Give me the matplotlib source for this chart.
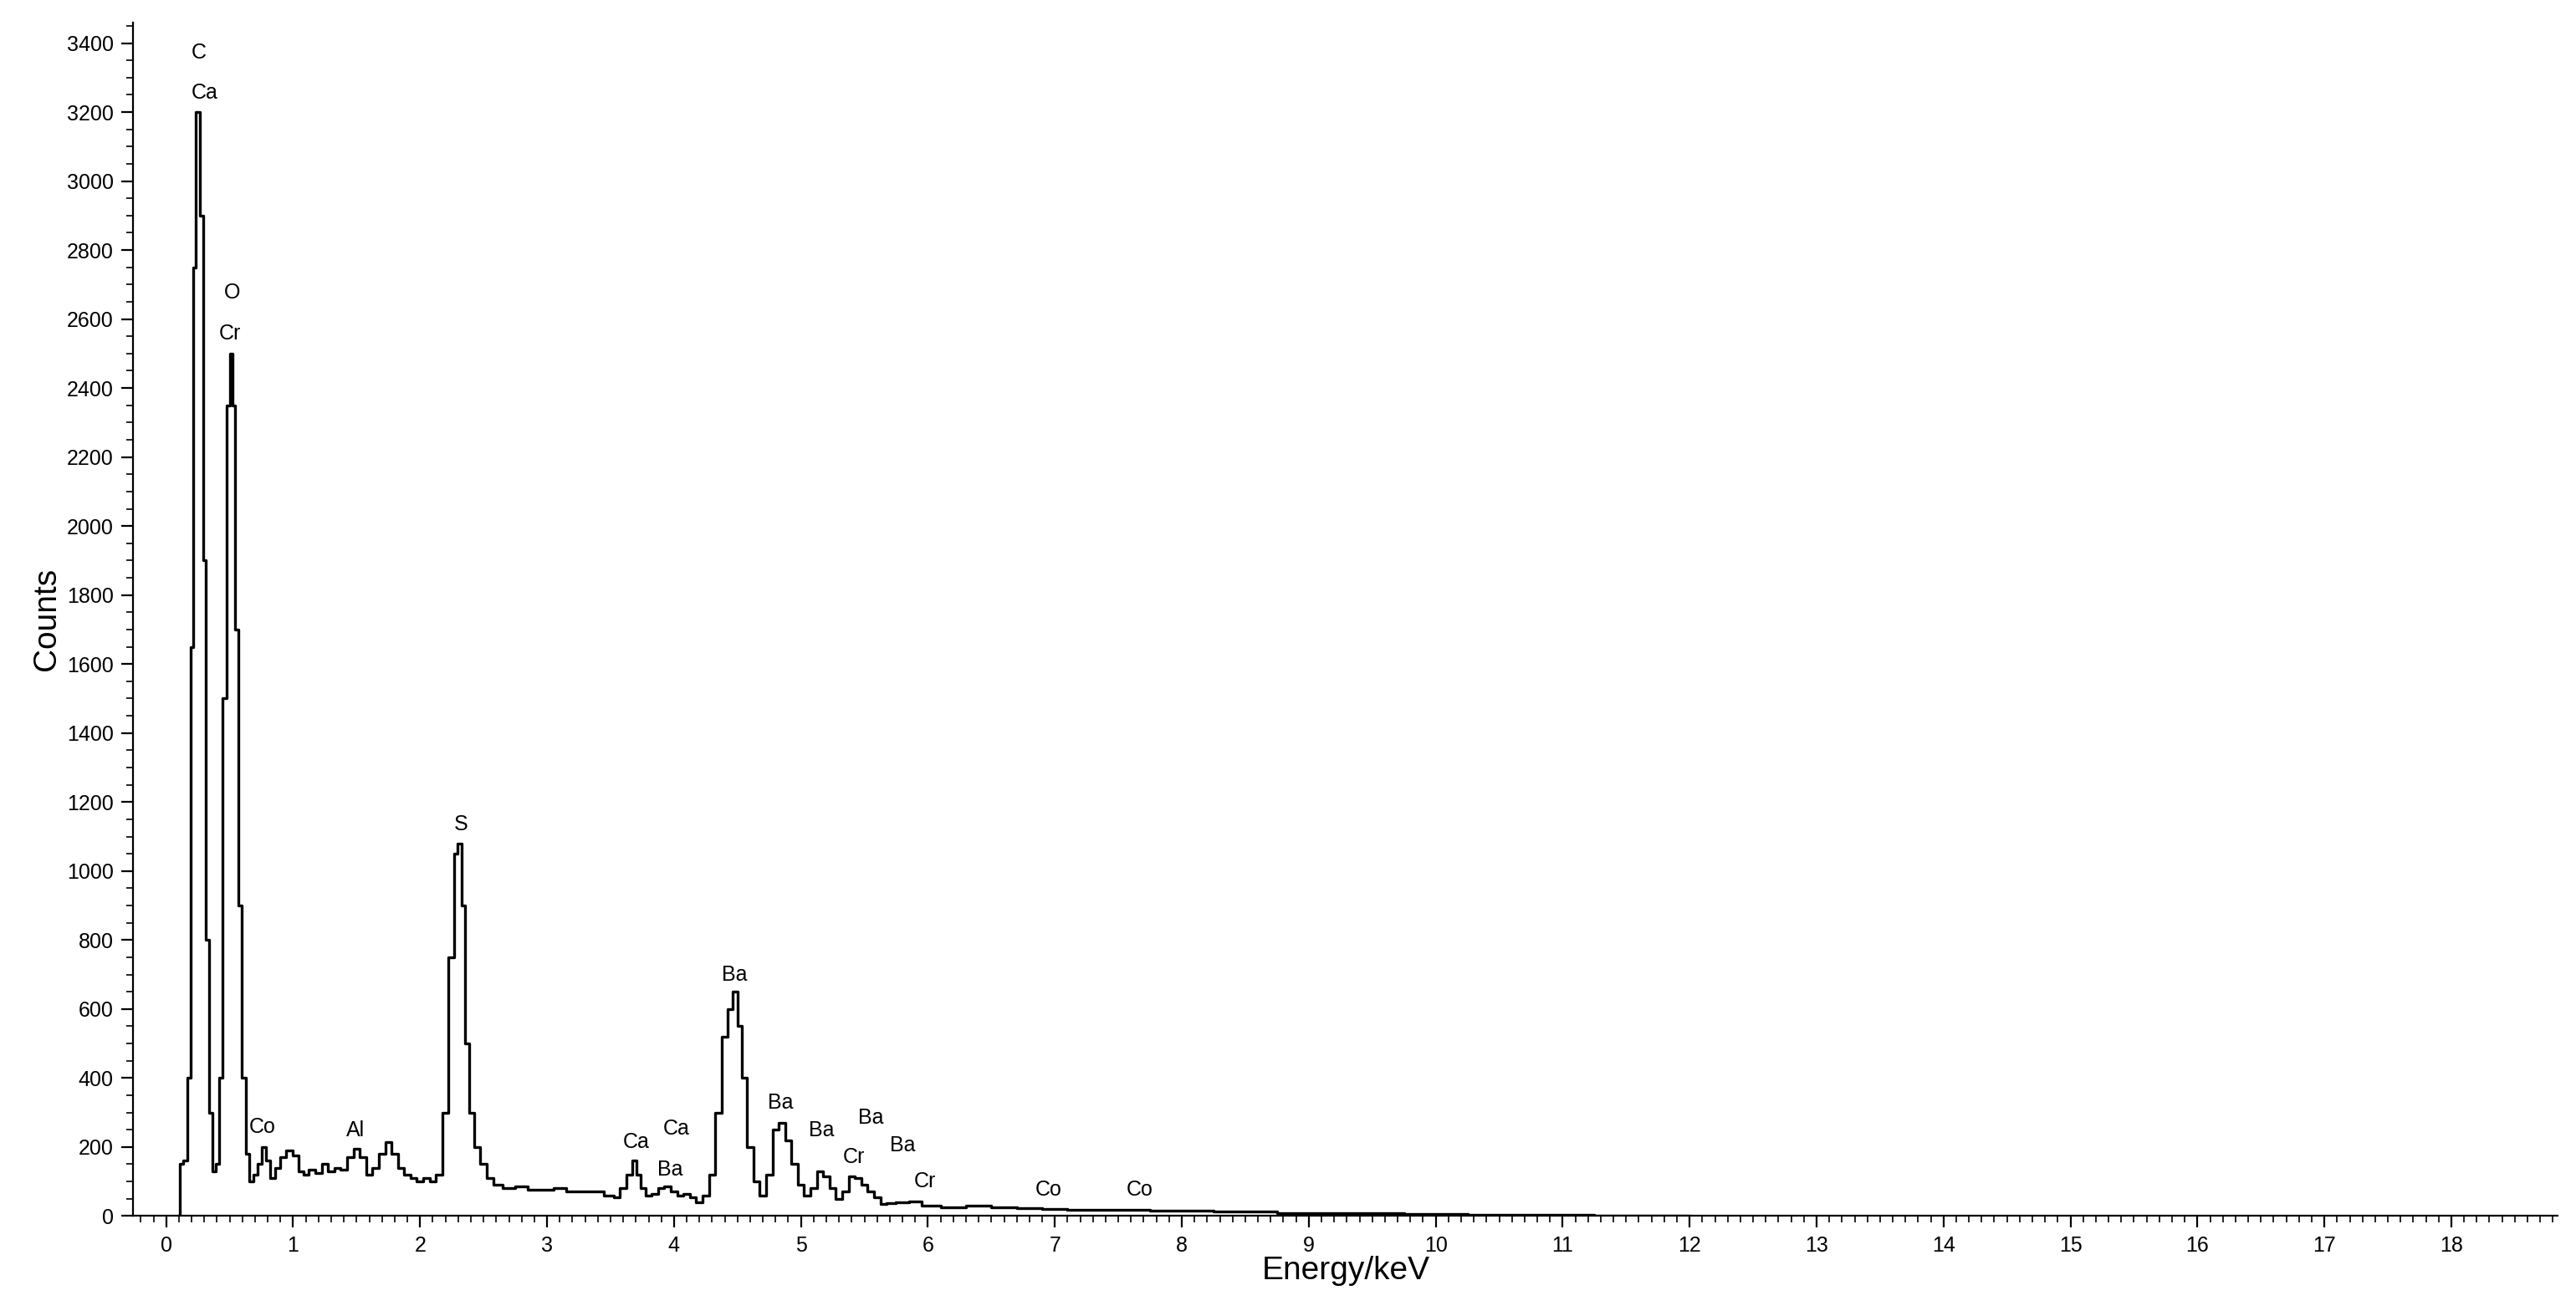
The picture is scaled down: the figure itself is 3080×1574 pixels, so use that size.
import matplotlib
matplotlib.use("Agg")
import matplotlib.pyplot as plt
from matplotlib.ticker import MultipleLocator

plt.rcParams['font.family'] = ['Liberation Sans', 'DejaVu Sans']

# EDS spectrum (keV, counts)
energy = [0.10, 0.12, 0.15, 0.18, 0.20, 0.22, 0.25, 0.28, 0.30, 0.32, 0.35, 0.38, 0.40, 0.43,
          0.46, 0.49, 0.51, 0.53, 0.56, 0.58, 0.61, 0.64, 0.67, 0.70, 0.74, 0.77, 0.80, 0.84,
          0.88, 0.92, 0.97, 1.02, 1.06, 1.10, 1.15, 1.20, 1.25, 1.30, 1.35, 1.40, 1.45, 1.50,
          1.55, 1.60, 1.65, 1.70, 1.75, 1.80, 1.85, 1.90, 1.95, 2.00, 2.05, 2.10, 2.15, 2.20,
          2.25, 2.28, 2.31, 2.34, 2.37, 2.40, 2.45, 2.50, 2.55, 2.60, 2.70, 2.80, 2.90, 3.00,
          3.10, 3.20, 3.30, 3.40, 3.50, 3.55, 3.60, 3.65, 3.69, 3.72, 3.76, 3.80, 3.85, 3.90,
          3.95, 4.00, 4.05, 4.10, 4.15, 4.20, 4.25, 4.30, 4.35, 4.40, 4.45, 4.48, 4.52, 4.55,
          4.60, 4.65, 4.70, 4.75, 4.80, 4.85, 4.90, 4.95, 5.00, 5.05, 5.10, 5.15, 5.20, 5.25,
          5.30, 5.35, 5.40, 5.45, 5.50, 5.55, 5.60, 5.65, 5.70, 5.80, 5.90, 6.00, 6.20, 6.40,
          6.60, 6.80, 7.00, 7.20, 7.50, 8.00, 8.50, 9.00, 9.50, 10.0, 10.5, 11.0, 11.5, 11.9, 12.0]
counts = [0, 150, 160, 400, 1650, 2750, 3200, 2900, 1900, 800, 300, 130, 150, 400,
          1500, 2350, 2500, 2350, 1700, 900, 400, 180, 100, 120, 150, 200, 160, 110,
          140, 170, 190, 175, 130, 120, 135, 125, 150, 130, 140, 135, 170, 195,
          170, 120, 140, 180, 215, 180, 140, 120, 110, 100, 110, 100, 120, 300,
          750, 1050, 1080, 900, 500, 300, 200, 150, 110, 90, 80, 85, 75, 75,
          80, 70, 72, 70, 60, 55, 80, 120, 160, 120, 80, 60, 65, 80,
          85, 70, 60, 65, 55, 40, 60, 120, 300, 520, 600, 650, 550, 400,
          200, 100, 60, 120, 250, 270, 220, 150, 90, 60, 80, 130, 115, 80,
          50, 70, 115, 110, 90, 70, 55, 35, 38, 40, 42, 30, 25, 30,
          25, 22, 20, 18, 18, 15, 12, 9, 7, 5, 4, 3, 2, 2, 0]

# peak labels: text, energy, count height
label_text = ['C', 'Ca', 'O', 'Cr', 'S', 'Ba', 'Co', 'Al', 'Ca', 'Ca', 'Ba', 'Ba', 'Ba',
              'Ba', 'Ba', 'Cr', 'Cr', 'Co', 'Co']
label_x = [0.26, 0.30, 0.52, 0.50, 2.32, 4.48, 0.76, 1.49, 3.70, 4.02, 3.97, 4.84, 5.16,
           5.55, 5.80, 5.42, 5.98, 6.95, 7.67]
label_y = [3371, 3257, 2677, 2558, 1136, 699, 257, 247, 214, 252, 133, 328, 247,
           285, 204, 171, 100, 76, 76]

fig = plt.figure(figsize=(15.4, 7.87), dpi=200)
ax = fig.add_axes([0.0517, 0.076, 0.9413, 0.907])
ax.plot(energy, counts, color='black', lw=1.2, drawstyle='steps-mid')

for t, x, y in zip(label_text, label_x, label_y):
    ax.text(x, y, t, ha='center', va='center', fontsize=9)

ax.set_xlim(-0.26, 18.84)
ax.set_ylim(0, 3460)
ax.xaxis.set_major_locator(MultipleLocator(1))
ax.xaxis.set_minor_locator(MultipleLocator(0.1))
ax.yaxis.set_major_locator(MultipleLocator(200))
ax.yaxis.set_minor_locator(MultipleLocator(50))
ax.tick_params(which='both', direction='out', labelsize=9)
ax.tick_params(which='major', length=5)
ax.tick_params(which='minor', length=3)
ax.spines['top'].set_visible(False)
ax.spines['right'].set_visible(False)
ax.set_xlabel('Energy/keV', fontsize=14, labelpad=0)
ax.set_ylabel('Counts', fontsize=14, labelpad=2)

fig.savefig('out.png', dpi=200)
